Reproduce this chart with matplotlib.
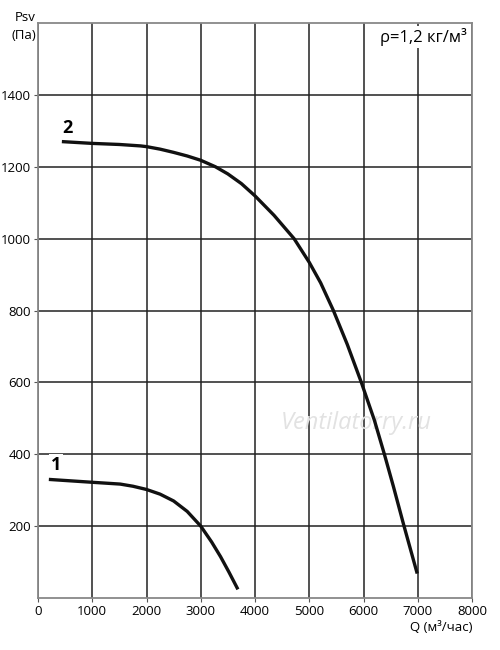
import matplotlib.pyplot as plt

# data
q2 = [440, 1000, 1500, 1890, 2000, 2250, 2500, 2750, 3000, 3270, 3500, 3750, 4000,
      4350, 4720, 5000, 5210, 5445, 5700, 5960, 6200, 6385, 6550, 6740, 6990]
p2 = [1270, 1265, 1262, 1258, 1256, 1249, 1240, 1230, 1218, 1200, 1180, 1153, 1119,
      1065, 1000, 934, 877, 800, 706, 600, 495, 400, 311, 204, 68]

q1 = [200, 500, 1000, 1515, 1750, 2000, 2250, 2500, 2750, 3000, 3200, 3365, 3520, 3685]
p1 = [330, 327, 322, 317, 311, 302, 289, 270, 241, 200, 156, 115, 72, 24]

x_ticks = [0, 1000, 2000, 3000, 4000, 5000, 6000, 7000, 8000]
y_ticks = [200, 400, 600, 800, 1000, 1200, 1400]

plt.rcParams['font.family'] = ['Open Sans', 'DejaVu Sans']

fig = plt.figure(figsize=(5, 6.5), dpi=100)
ax = fig.add_axes([0.076, 0.08, 0.868, 0.8846])

ax.set_xlim(0, 8000)
ax.set_ylim(0, 1600)
ax.set_xticks(x_ticks)
ax.set_yticks(y_ticks)
ax.tick_params(labelsize=9.5, length=3, color='#555555', pad=2)
ax.grid(True, color='#222222', linewidth=1.1)
for s in ax.spines.values():
    s.set_color('#888888')
    s.set_linewidth(1.3)

ax.plot(q2, p2, color='#111111', linewidth=2.4, solid_capstyle='butt',
        solid_joinstyle='round', zorder=3)
ax.plot(q1, p1, color='#111111', linewidth=2.4, solid_capstyle='butt',
        solid_joinstyle='round', zorder=3)

ax.text(540, 1282, '2', fontsize=13, fontweight='bold', ha='center', va='bottom')
ax.text(330, 345, '1', fontsize=13, fontweight='bold', ha='center', va='bottom',
        bbox=dict(facecolor='white', edgecolor='none', pad=1.5))

ax.text(7900, 1585, 'ρ=1,2 кг/м³', fontsize=12, ha='right', va='top',
        bbox=dict(facecolor='white', edgecolor='none', pad=1.5), zorder=4)

# faint watermark
ax.text(5870, 486, 'Ventilatorry.ru', fontsize=17, style='italic', color='#e2e2e2',
        ha='center', va='center', zorder=2)

fig.text(0.072, 0.973, 'Psv', fontsize=9.5, ha='right', va='center')
fig.text(0.072, 0.945, '(Па)', fontsize=9.5, ha='right', va='center')
fig.text(0.946, 0.034, 'Q (м³/час)', fontsize=9.5, ha='right', va='center')

fig.savefig('out.png', dpi=100, facecolor='white')
